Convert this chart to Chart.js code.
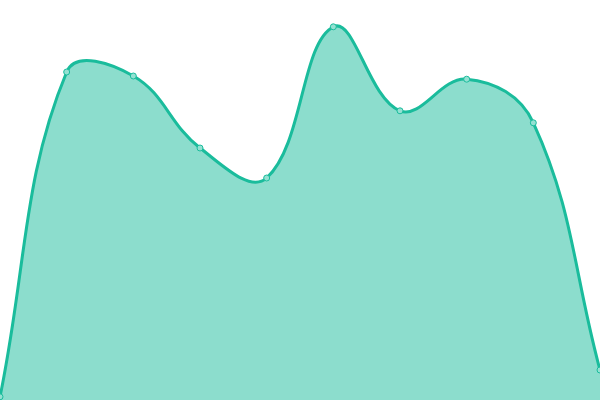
<!DOCTYPE html>
<html>
<head>
<meta charset="utf-8">
<script src="https://cdn.jsdelivr.net/npm/chart.js@4"></script>
<style>
  html, body { margin: 0; padding: 0; background: #fff; }
  #wrap { width: 600px; height: 400px; }
</style>
</head>
<body>
<div id="wrap"><canvas id="areaChart"></canvas></div>
<script>
var labels = ["1", "2", "3", "4", "5", "6", "7", "8", "9", "10"];
var values = [0.8, 82, 81, 63, 55.5, 93.3, 72.3, 80.2, 69.3, 7.5];
var yMin = 0;
var yMax = 100;

var ctx = document.getElementById('areaChart');
var myChart = new Chart(ctx, {
    type: 'line',
    data: {
        labels: labels,
        datasets: [{
            data: values,
            fill: 'start',
            backgroundColor: 'rgba(26, 188, 156, 0.5)',
            borderColor: 'rgba(26, 188, 156, 1)',
            borderWidth: 3,
            tension: 0.4,
            pointRadius: 3,
            pointBorderWidth: 1,
            pointBackgroundColor: 'rgba(148, 225, 210, 1)',
            pointBorderColor: 'rgba(26, 188, 156, 1)'
        }]
    },
    options: {
        responsive: true,
        maintainAspectRatio: false,
        animation: false,
        layout: { padding: 0, autoPadding: false },
        plugins: {
            legend: { display: false },
            tooltip: { enabled: false }
        },
        scales: {
            x: { display: false },
            y: { display: false, min: yMin, max: yMax }
        }
    }
});
</script>
</body>
</html>
